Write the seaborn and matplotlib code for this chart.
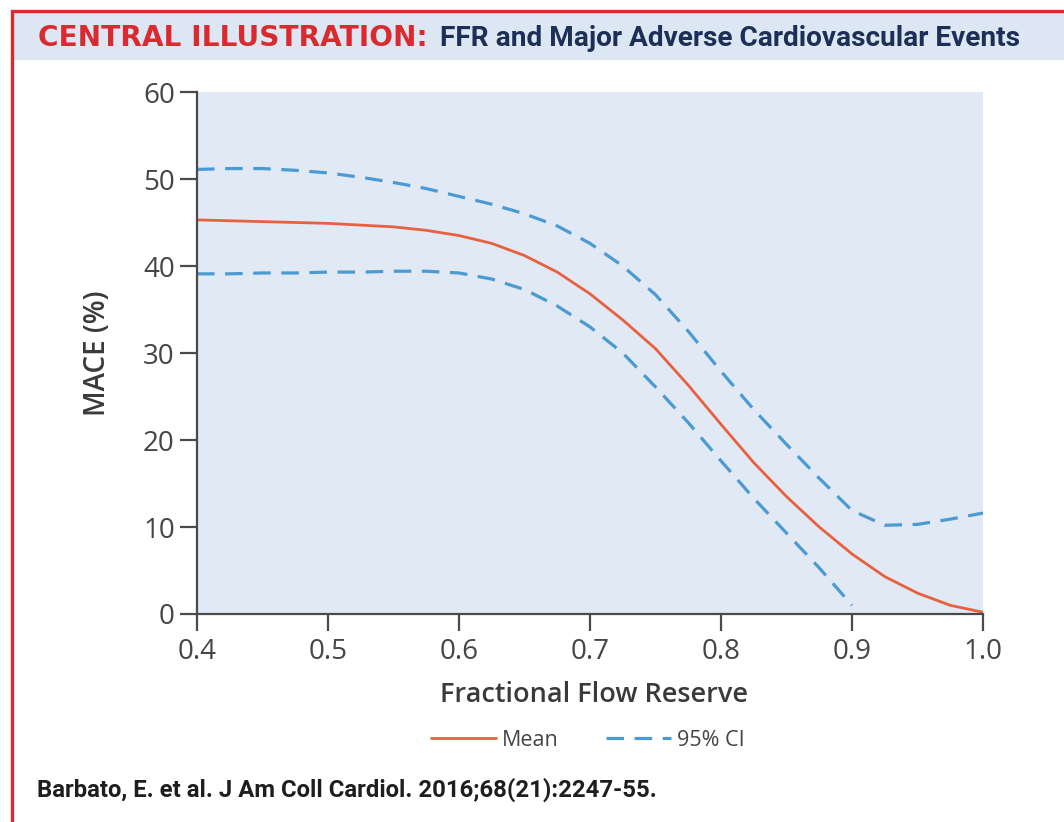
import matplotlib
matplotlib.use("Agg")
import matplotlib.pyplot as plt
from matplotlib.lines import Line2D
from matplotlib.patches import Rectangle
import seaborn as sns
import pandas as pd

# ---- data ----
ffr = [0.400, 0.425, 0.450, 0.475, 0.500, 0.525, 0.550, 0.575, 0.600, 0.625,
       0.650, 0.675, 0.700, 0.725, 0.750, 0.775, 0.800, 0.825, 0.850, 0.875,
       0.900, 0.925, 0.950, 0.975, 1.000]
mace_mean = [45.3, 45.2, 45.1, 45.0, 44.9, 44.7, 44.5, 44.1, 43.5, 42.6,
             41.2, 39.3, 36.8, 33.8, 30.5, 26.3, 21.8, 17.4, 13.5, 10.0,
             6.9, 4.3, 2.4, 1.0, 0.2]
mace_upper = [51.1, 51.2, 51.2, 51.0, 50.7, 50.2, 49.6, 48.9, 48.0, 47.1,
              46.0, 44.6, 42.6, 40.0, 36.7, 32.5, 27.9, 23.5, 19.5, 15.6,
              11.9, 10.2, 10.3, 10.9, 11.6]
ffr_lower = [0.400, 0.425, 0.450, 0.475, 0.500, 0.525, 0.550, 0.575, 0.600, 0.625,
             0.650, 0.675, 0.700, 0.725, 0.750, 0.775, 0.800, 0.825, 0.850, 0.875,
             0.900]
mace_lower = [39.1, 39.1, 39.2, 39.2, 39.3, 39.3, 39.4, 39.4, 39.2, 38.5,
              37.3, 35.4, 33.0, 30.0, 26.1, 22.0, 17.6, 13.3, 9.3, 5.3,
              1.0]
x_ticks = [0.4, 0.5, 0.6, 0.7, 0.8, 0.9, 1.0]
x_tick_labels = ["0.4", "0.5", "0.6", "0.7", "0.8", "0.9", "1.0"]
y_ticks = [0, 10, 20, 30, 40, 50, 60]
legend_labels = ["Mean", "95% CI"]
title_red = "CENTRAL ILLUSTRATION:"
title_blue = "FFR and Major Adverse Cardiovascular Events"
x_label = "Fractional Flow Reserve"
y_label = "MACE (%)"
citation = "Barbato, E. et al. J Am Coll Cardiol. 2016;68(21):2247-55."

df_mean = pd.DataFrame({"FFR": ffr, "MACE": mace_mean})
df_upper = pd.DataFrame({"FFR": ffr, "MACE": mace_upper})
df_lower = pd.DataFrame({"FFR": ffr_lower, "MACE": mace_lower})

sns.set_theme(style="white")
plt.rcParams["font.family"] = ["Open Sans", "DejaVu Sans"]

W, H = 1064, 822
fig = plt.figure(figsize=(W / 100, H / 100), dpi=100)
fig.patch.set_facecolor("white")

def fx(px):
    return px / W

def fy(py):
    return 1 - py / H

RED = "#d92b2f"
NAVY = "#1b2f57"
MEAN_C = "#e8603f"
CI_C = "#4b9bd2"
TXT = "#454545"

# header band and red frame
fig.patches.append(Rectangle((fx(13), fy(60)), fx(W - 13), 47 / H,
                             transform=fig.transFigure, facecolor="#dde7f3",
                             edgecolor="none", zorder=0))
fig.lines.append(Line2D([fx(11.5), fx(11.5), fx(W)], [0, fy(11.5), fy(11.5)],
                        transform=fig.transFigure, color=RED, linewidth=2.4,
                        solid_capstyle="butt", solid_joinstyle="miter"))

ax = fig.add_axes([fx(197), fy(614), fx(983 - 197), (614 - 92) / H])
ax.set_facecolor("#e1e9f4")

DASH = (0, (5.5, 3.3))
sns.lineplot(data=df_upper, x="FFR", y="MACE", ax=ax, color=CI_C, linewidth=2.3,
             linestyle=DASH)
sns.lineplot(data=df_lower, x="FFR", y="MACE", ax=ax, color=CI_C, linewidth=2.3,
             linestyle=DASH)
sns.lineplot(data=df_mean, x="FFR", y="MACE", ax=ax, color=MEAN_C, linewidth=2.0)

ax.set_xlim(0.4, 1.0)
ax.set_ylim(0, 60)
ax.set_xticks(x_ticks)
ax.set_xticklabels(x_tick_labels)
ax.set_yticks(y_ticks)
for s in ["top", "right"]:
    ax.spines[s].set_visible(False)
for s in ["left", "bottom"]:
    ax.spines[s].set_color("#4a4a4a")
    ax.spines[s].set_linewidth(1.6)
ax.tick_params(axis="both", direction="out", length=12, width=1.6, color="#4a4a4a",
               labelsize=20, labelcolor=TXT, bottom=True, left=True)
ax.tick_params(axis="y", pad=4)
ax.tick_params(axis="x", pad=5)

ax.set_xlabel(x_label, fontsize=19.5, fontweight="semibold", color="#3a3a3a")
ax.set_ylabel(y_label, fontsize=20, fontweight="semibold", color="#3a3a3a")
ax.xaxis.set_label_coords(0.505, -0.128)
ax.yaxis.set_label_coords(-0.108, 0.5)

handles = [Line2D([], [], color=MEAN_C, linewidth=2.0),
           Line2D([], [], color=CI_C, linewidth=2.3, linestyle=DASH)]
leg = fig.legend(handles, legend_labels, loc="center", bbox_to_anchor=(fx(588), fy(740)),
                 ncol=2, frameon=False, fontsize=15.5, handlelength=3.0,
                 handletextpad=0.3, columnspacing=2.2)
for t in leg.get_texts():
    t.set_color(TXT)

renderer = fig.canvas.get_renderer()

def fit_text(x0, x1, ybase, s, color, family, size):
    t = fig.text(fx(x0), fy(ybase), s, color=color, fontsize=size, fontweight="bold",
                 family=family, va="baseline", ha="left")
    w = t.get_window_extent(renderer).width
    t.set_fontsize(size * (x1 - x0) / w)
    return t

fit_text(38, 427, 46, title_red, RED, ["DejaVu Sans"], 17)
fit_text(440, 1020, 46, title_blue, NAVY, ["Roboto", "DejaVu Sans"], 18)
fit_text(37, 657, 797, citation, "#1e1e1e", ["Roboto", "DejaVu Sans"], 15)

fig.savefig("out.png", dpi=100)
